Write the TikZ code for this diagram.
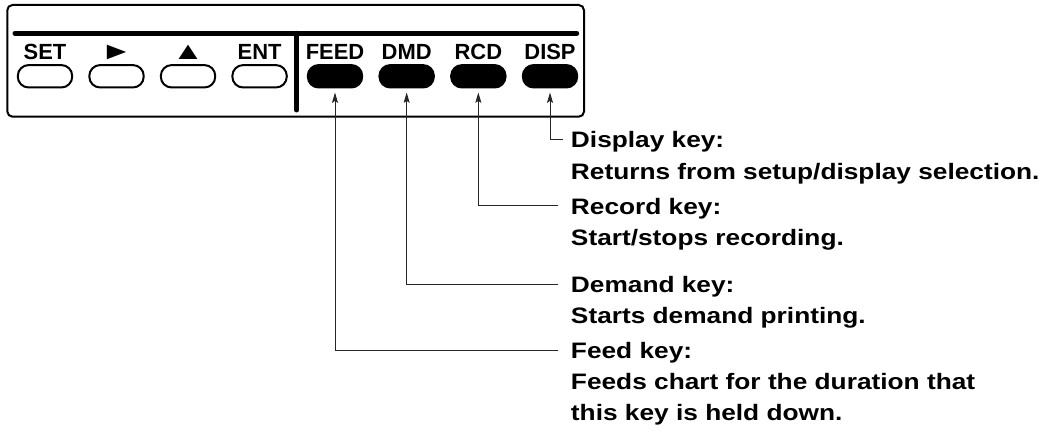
\documentclass[tikz,border=0pt]{standalone}
\usepackage{fontspec}
\usepackage{graphicx}
\setmainfont{Liberation Sans}
\newfontfamily\descfont[FakeStretch=1.175]{Liberation Sans}
\newcommand\keyglyph[1]{\resizebox{0.8cm}{0.36cm}{#1}}
\usetikzlibrary{arrows.meta, positioning}
\tikzset{
  frame/.style={draw=black, line width=0.05cm, rounded corners=0.13cm},
  bar/.style={draw=black, line width=0.125cm, line cap=round},
  keycap/.style={
    rectangle, rounded corners=0.27cm,
    minimum width=1.36cm, minimum height=0.56cm,
    draw=black, line width=0.05cm, inner sep=0pt,
  },
  softkey/.style={keycap, fill=white},
  hardkey/.style={keycap, fill=black},
  keylbl/.style={
    inner sep=0pt, text depth=0pt,
    font=\fontsize{15.6pt}{18pt}\selectfont\bfseries,
  },
  keytitle/.style={
    anchor=base west, inner sep=0pt, text height=0.42cm, text depth=0pt,
    font=\descfont\bfseries\fontsize{15.9pt}{22pt}\selectfont,
  },
  keydesc/.style={
    inner sep=0pt, align=left,
    font=\descfont\bfseries\fontsize{15.9pt}{21.9pt}\selectfont,
  },
  leader/.style={-{Stealth[length=0.26cm, width=0.15cm, inset=0.05cm]},
    line width=0.7pt, black!85},
}

\begin{document}
\begin{tikzpicture}

\useasboundingbox (0,0) rectangle (26.3,10.925);

% ── panel outline and divider bar ─────────────────────────────────────
\draw[frame] (0.1825,8.0075) rectangle (14.6,10.8);
\draw[bar] (0.375,10.0925) -- (14.4175,10.0925);
\draw[bar] (7.4175,10.0925) -- (7.4175,8.175);

% ── left group: setup keys ────────────────────────────────────────────
\foreach \name/\lbl [count=\i from 0] in
    {set/SET, right/\keyglyph{►}, up/\keyglyph{▲}, ent/ENT} {
  \node[softkey] (\name) at ({1.125+1.788*\i}, 9.0175) {};
  \node[keylbl, above=0.12cm of \name] (\name lbl) {\lbl};
}

% ── right group: function keys ────────────────────────────────────────
\foreach \name/\lbl [count=\i from 0] in {feed/FEED, dmd/DMD, rcd/RCD, disp/DISP} {
  \node[hardkey] (\name) at ({8.375+1.7917*\i}, 9.0175) {};
  \node[keylbl, above=0.12cm of \name] (\name lbl) {\lbl};
}

% ── key descriptions ──────────────────────────────────────────────────
\node[keytitle] (disptitle) at (14.2675,7.2325) {Display key:};
\node[keydesc, below=0.8cm of disptitle.base west, anchor=base west] (dispdesc)
  {Returns from setup/display selection.};

\node[keytitle] (rcdtitle) at (14.2675,5.5675) {Record key:};
\node[keydesc, below=0.78cm of rcdtitle.base west, anchor=base west] (rcddesc)
  {Start/stops recording.};

\node[keytitle] (dmdtitle) at (14.2675,3.6075) {Demand key:};
\node[keydesc, below=0.78cm of dmdtitle.base west, anchor=base west] (dmddesc)
  {Starts demand printing.};

\node[keytitle] (feedtitle) at (14.2675,1.95) {Feed key:};
% base of a two-line node is its last line
\node[keydesc, below=1.53cm of feedtitle.base west, anchor=base west] (feeddesc)
  {Feeds chart for the duration that\\this key is held down.};

% ── leaders: description → key ────────────────────────────────────────
\draw[leader] ([xshift=-0.2cm]disptitle.west) -| ([yshift=-0.1cm]disp.south);
\draw[leader] ([xshift=-0.31cm]rcdtitle.west)  -| ([yshift=-0.1cm]rcd.south);
\draw[leader] ([xshift=-0.31cm]dmdtitle.west)  -| ([yshift=-0.1cm]dmd.south);
\draw[leader] ([xshift=-0.31cm]feedtitle.west) -| ([yshift=-0.1cm]feed.south);

\end{tikzpicture}
\end{document}
